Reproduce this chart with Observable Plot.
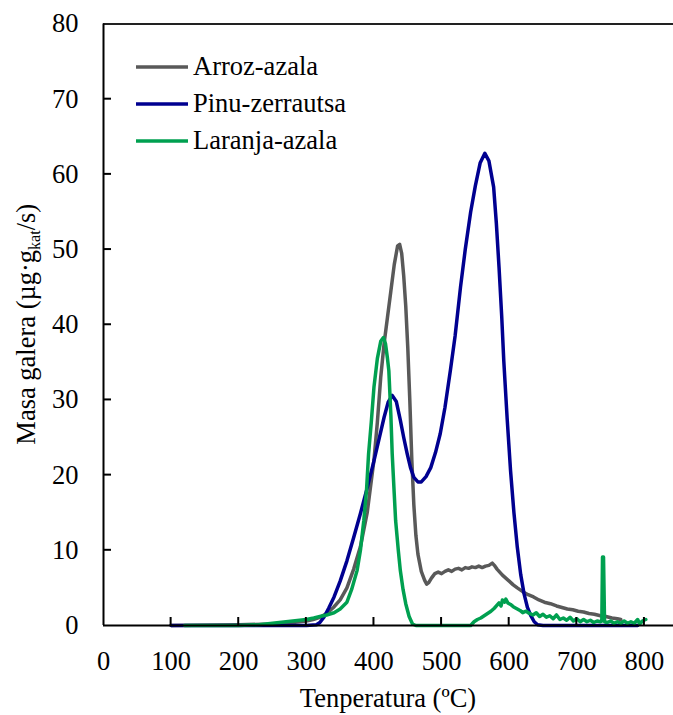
<!DOCTYPE html>
<html><head><meta charset="utf-8">
<script src="https://cdn.jsdelivr.net/npm/d3@7"></script>
<script src="https://cdn.jsdelivr.net/npm/@observablehq/plot@0.6"></script>
<style>
body{margin:0;background:#fff}
#chart svg{font-family:"Liberation Serif","Times New Roman",serif}
</style>
</head><body><div id="chart"></div>
<script>
// ---- data ----
const seriesNames = ["Arroz-azala", "Pinu-zerrautsa", "Laranja-azala"];
const seriesColors = ["#595959", "#000090", "#00a050"];

const arrozT = [100,200,250,280,300,310,320,330,340,350,360,370,380,390,400,405,410,415,420,425,430,435,438,441,444,447,450,453,456,459,462,465,470,475,478,481,485,490,495,500,505,510,515,520,525,530,535,540,545,550,555,560,565,570,575,578,582,590,600,606,612,620,628,636,644,652,661,670,678,686,694,702,710,718,726,735,743,752,760,765];
const arrozV = [0,0.1,0.2,0.4,0.6,0.8,1.1,1.6,2.4,3.4,5.0,7.5,10.5,15,22,27,33,37.5,41,44.5,48,50.5,50.7,49.5,46.5,42.5,37,30,22,16,12,9.5,7.2,6.0,5.5,5.7,6.3,6.9,7.1,6.9,7.2,7.4,7.2,7.5,7.6,7.4,7.7,7.6,7.8,7.7,7.9,7.7,7.9,8.0,8.3,8.0,7.5,6.7,5.9,5.4,5.0,4.5,4.1,3.8,3.4,3.1,2.9,2.6,2.4,2.2,2.1,1.9,1.8,1.6,1.5,1.3,1.2,1.0,0.9,0.8];

const pinuT = [100,200,300,315,320,326,333,341,350,360,370,380,390,400,408,415,421,427,433,439,444,449,454,459,465,470,477,484,491,498,505,513,520,528,535,543,550,557,564,570,577,581,585,589,592,597,602,607,612,617,622,627,632,637,642,650,700,750,790];
const pinuV = [0,0,0,0.1,0.4,1.1,2.3,3.8,5.9,8.6,11.7,14.9,18.3,21.9,25,27.7,29.7,30.6,29.8,27.3,25,22.9,21,19.7,19.1,19.1,19.8,21,23,25.5,29,33.9,38.5,45,50,55,58.5,61.5,62.8,61.8,58.3,53.5,47.6,41,35.2,27.5,20.6,15,10.4,6.8,4.2,2.4,1.3,0.5,0.1,0,0,0,0];

const laranjaT = [120,150,200,230,250,270,290,300,311,320,330,341,350,360,367,375,380,385,389,392,396,400,405,410,414,417,420,422,425,427,430,432,436,439,443,447,452,457,462,500,543,548,553,558,563,568,573,578,582,585,588,590,593,595,598,602,606,612,616,620,625,630,635,640,645,650,655,660,665,670,675,680,685,690,695,700,705,710,715,720,725,730,735,737,738,739.5,741,745,750,755,760,765,770,775,780,785,790,793,797,802];
const laranjaV = [0,0,0,0.1,0.3,0.5,0.7,0.8,1.0,1.2,1.4,1.7,2.2,3.1,4.8,7.3,10,14,18,22.8,27,31.7,35.5,37.8,38.3,37.5,35.5,33.9,28,22.8,17.5,14,10,7.3,4.8,2.9,1.2,0.2,0,0,0,0.5,0.8,1.0,1.3,1.6,1.9,2.3,2.7,3.0,2.6,3.4,3.1,3.5,3.0,2.8,2.5,2.2,2.0,1.7,1.9,1.6,1.4,1.7,1.2,1.5,1.1,1.3,0.9,1.4,0.8,1.0,0.7,1.1,0.6,0.9,0.5,0.8,0.5,0.7,0.4,0.6,0.5,0.6,9.1,9.1,0.5,0.4,0.6,0.3,0.5,0.3,0.6,0.3,0.5,0.3,0.8,0.2,0.6,0.8];

const xTicks = [0,100,200,300,400,500,600,700,800];
const yTicks = [0,10,20,30,40,50,60,70,80];
const xLabel = "Tenperatura (ºC)";
const yLabelParts = ["Masa galera (µg·g", "kat", "/s)"];

// ---- build tables ----
const toRows = (T, V) => T.map((t, i) => ({T: t, v: V[i]}));
const arroz = toRows(arrozT, arrozV);
const pinu = toRows(pinuT, pinuV);
const laranja = toRows(laranjaT, laranjaV);

const fs = "26.5px";
const chart = Plot.plot({
  width: 673, height: 715,
  marginLeft: 103, marginRight: 0, marginTop: 23.5, marginBottom: 90,
  style: {fontFamily: '"Liberation Serif","Times New Roman",serif', fontSize: fs, color: "#000", background: "#fff"},
  x: {domain: [0, 843]},
  y: {domain: [0, 80]},
  marks: [
    Plot.line(arroz, {x: "T", y: "v", stroke: seriesColors[0], strokeWidth: 3.5}),
    Plot.line(pinu, {x: "T", y: "v", stroke: seriesColors[1], strokeWidth: 3.5}),
    Plot.line(laranja, {x: "T", y: "v", stroke: seriesColors[2], strokeWidth: 3.5}),
    Plot.ruleY([80], {stroke: "#222", strokeWidth: 2}),
    Plot.ruleY([0], {stroke: "#000", strokeWidth: 2}),
    Plot.ruleX([0], {stroke: "#000", strokeWidth: 2}),
    Plot.axisX(xTicks, {tickSize: 0, tickPadding: 26, label: null, fontSize: fs}),
    Plot.axisY(yTicks, {tickSize: 0, tickPadding: 25, label: null, fontSize: fs})
  ]
});
document.getElementById("chart").appendChild(chart);

const svg = d3.select(chart);
const xs = chart.scale("x"), ys = chart.scale("y");

// ---- inward tick marks, positioned with Plot's scales ----
const tg = svg.append("g").attr("stroke", "#000").attr("stroke-width", 2);
const y0 = ys.apply(0), x0 = xs.apply(0);
xTicks.slice(1).forEach(t => {
  const px = xs.apply(t);
  tg.append("line").attr("x1", px).attr("x2", px).attr("y1", y0).attr("y2", y0 - 8);
});
yTicks.slice(1, -1).forEach(t => {
  const py = ys.apply(t);
  tg.append("line").attr("x1", x0).attr("x2", x0 + 8).attr("y1", py).attr("y2", py);
});

// ---- labels & legend ----
const cx = (xs.range[0] + 673) / 2;
svg.append("text").attr("x", cx).attr("y", 707).attr("text-anchor", "middle")
  .attr("font-size", fs).attr("fill", "#000").text(xLabel);
const cy = (ys.range[0] + ys.range[1]) / 2;
const yl = svg.append("text").attr("transform", `translate(35,${cy}) rotate(-90)`)
  .attr("text-anchor", "middle").attr("font-size", fs).attr("fill", "#000");
yl.append("tspan").text(yLabelParts[0]);
yl.append("tspan").attr("font-size", "16px").attr("dy", "5").text(yLabelParts[1]);
yl.append("tspan").attr("dy", "-5").text(yLabelParts[2]);

const leg = svg.append("g");
seriesNames.forEach((name, i) => {
  const y = 67 + i * 37;
  leg.append("line").attr("x1", 136).attr("x2", 188).attr("y1", y).attr("y2", y)
    .attr("stroke", seriesColors[i]).attr("stroke-width", 3.5);
  leg.append("text").attr("x", 193).attr("y", y).attr("dy", "0.32em")
    .attr("text-anchor", "start").attr("font-size", fs).attr("fill", "#000").text(name);
});
</script>
</body></html>
